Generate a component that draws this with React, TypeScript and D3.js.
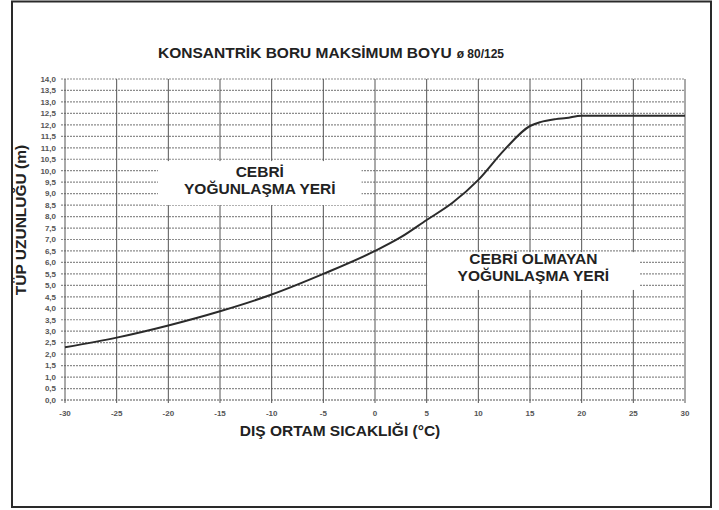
import React from "react";
import * as d3 from "d3";

// Outdoor temperature (°C) and maximum concentric pipe length (m)
const temperatures = [-30, -25, -20, -15, -10, -5, 0, 2.5, 5, 7.5, 10, 12.5, 15, 16, 17.5, 18.5, 20, 25, 30];
const pipeLengths = [2.3, 2.72, 3.25, 3.87, 4.6, 5.5, 6.5, 7.1, 7.85, 8.6, 9.6, 10.9, 11.95, 12.12, 12.25, 12.3, 12.4, 12.4, 12.4];

const xTicks = d3.range(-30, 31, 5);
const yTicks = d3.range(0, 14.01, 0.5);

const title = "KONSANTRİK BORU MAKSİMUM BOYU";
const titleSuffix = "ø 80/125";
const xTitle = "DIŞ ORTAM SICAKLIĞI (°C)";
const yTitle = "TÜP UZUNLUĞU (m)";
const zoneForced = ["CEBRİ", "YOĞUNLAŞMA YERİ"];
const zoneNatural = ["CEBRİ OLMAYAN", "YOĞUNLAŞMA YERİ"];

const W = 719;
const H = 510;
const FONT = "'Liberation Sans', Arial, Helvetica, sans-serif";

export default function App() {
  const x = d3.scaleLinear().domain([-30, 30]).range([65, 685]);
  const y = d3.scaleLinear().domain([0, 14]).range([400, 79]);

  const points = temperatures.map((t, i) => [t, pipeLengths[i]] as [number, number]);
  const line = d3
    .line<[number, number]>()
    .x((d) => x(d[0]))
    .y((d) => y(d[1]))
    .curve(d3.curveMonotoneX);

  const fmt = (v: number) => v.toFixed(1).replace(".", ",");

  const box1 = { x0: x(-21), x1: x(-1.3), y0: y(10.42), y1: y(8.5) };
  const box2 = { x0: x(5.05), x1: x(25.6), y0: y(6.45), y1: y(4.8) };

  return (
    <svg
      width={W}
      height={H}
      viewBox={`0 0 ${W} ${H}`}
      style={{ position: "absolute", left: 0, top: 0, background: "#fff" }}
      fontFamily={FONT}
    >
      <rect x={0} y={0} width={W} height={H} fill="#fff" />
      {/* outer frame */}
      <rect x={12} y={1.5} width={699} height={505.5} fill="none" stroke="#2a2a2a" strokeWidth={2} />

      {/* horizontal grid */}
      {yTicks.map((v) => (
        <g key={"h" + v}>
          <line
            x1={61}
            x2={x(30)}
            y1={y(v)}
            y2={y(v)}
            stroke={v === 0 ? "#555" : "#8c8c8c"}
            strokeWidth={1.2}
            strokeDasharray="2 1"
          />
          <text
            x={56}
            y={y(v)}
            dy="0.35em"
            textAnchor="end"
            fontSize={8}
            fontWeight="bold"
            fill="#555"
          >
            {fmt(v)}
          </text>
        </g>
      ))}

      {/* vertical grid */}
      {xTicks.map((t) => (
        <g key={"v" + t}>
          <line x1={x(t)} x2={x(t)} y1={y(14)} y2={y(0) + 3} stroke="#555" strokeWidth={1} />
          <text
            x={x(t)}
            y={416}
            textAnchor="middle"
            fontSize={8}
            fontWeight="bold"
            fill="#555"
          >
            {t}
          </text>
        </g>
      ))}

      {/* zone labels */}
      <rect x={box1.x0} y={box1.y0} width={box1.x1 - box1.x0} height={box1.y1 - box1.y0} fill="#fff" />
      <text x={(box1.x0 + box1.x1) / 2} textAnchor="middle" fontSize={15.5} fontWeight="bold" fill="#222">
        <tspan x={(box1.x0 + box1.x1) / 2} y={177}>{zoneForced[0]}</tspan>
        <tspan x={(box1.x0 + box1.x1) / 2} y={194}>{zoneForced[1]}</tspan>
      </text>

      <rect x={box2.x0} y={box2.y0} width={box2.x1 - box2.x0} height={box2.y1 - box2.y0} fill="#fff" />
      <text textAnchor="middle" fontSize={15.5} fontWeight="bold" fill="#222">
        <tspan x={(box2.x0 + box2.x1) / 2} y={263.5}>{zoneNatural[0]}</tspan>
        <tspan x={(box2.x0 + box2.x1) / 2} y={281}>{zoneNatural[1]}</tspan>
      </text>

      {/* curve */}
      <path d={line(points) ?? ""} fill="none" stroke="#2b2b2b" strokeWidth={2} strokeLinejoin="round" />

      {/* titles */}
      <text x={158} y={58} fontSize={15.5} fontWeight="bold" fill="#222">
        {title}
        <tspan fontSize={12} dx={5}>{titleSuffix}</tspan>
      </text>
      <text x={340} y={436} textAnchor="middle" fontSize={15.5} fontWeight="bold" fill="#222">
        {xTitle}
      </text>
      <text
        transform="translate(26,220) rotate(-90)"
        textAnchor="middle"
        fontSize={15.5}
        fontWeight="bold"
        fill="#222"
      >
        {yTitle}
      </text>
    </svg>
  );
}
